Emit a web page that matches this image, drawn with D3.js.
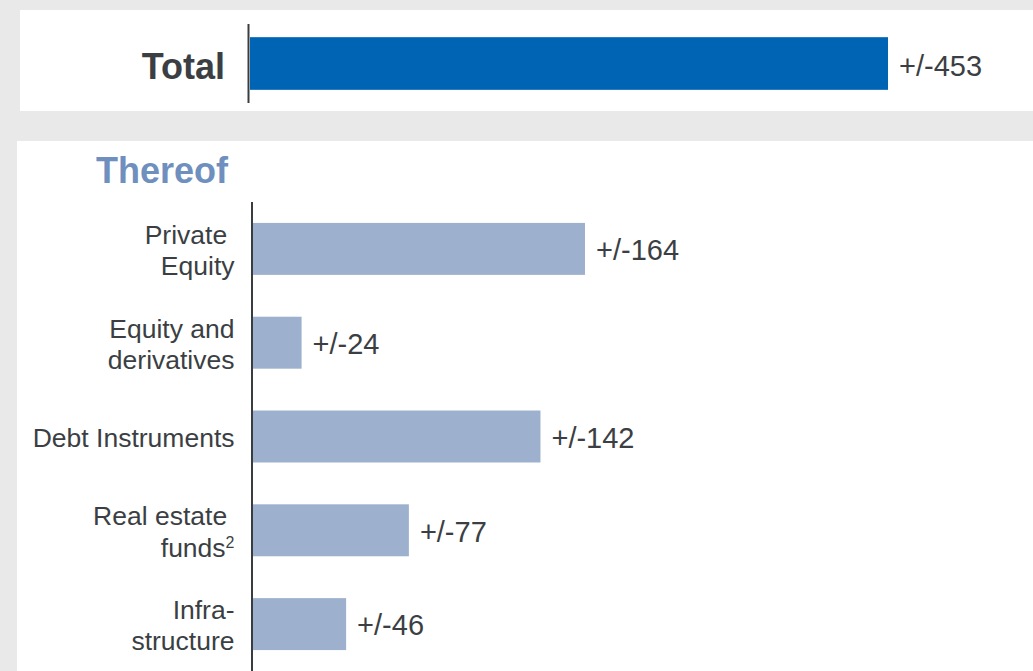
<!DOCTYPE html>
<html>
<head>
<meta charset="utf-8">
<script src="https://cdn.jsdelivr.net/npm/d3@7"></script>
<style>
  html, body { margin: 0; padding: 0; background: #e9e9e9; }
  svg { display: block; font-family: "Liberation Sans", Arial, sans-serif; }
</style>
</head>
<body>
<svg class="chart"></svg>
<script>
var totalCategory = ["Total"];
var totalValues = [453];

var categories = ["Private Equity", "Equity and derivatives", "Debt Instruments", "Real estate funds", "Infrastructure"];
var categoryLines = [["Private\u00a0", "Equity"], ["Equity and", "derivatives"], ["Debt Instruments"], ["Real estate\u00a0", "funds"], ["Infra-", "structure"]];
var values = [164, 24, 142, 77, 46];

var width = 1033, height = 671;
var textColor = "#3b3f44";

var svg = d3.select(".chart")
    .attr("width", width)
    .attr("height", height);

svg.append("rect")
    .attr("width", width).attr("height", height)
    .attr("fill", "#e9e9e9");

// panels
svg.append("rect")
    .attr("x", 20).attr("y", 10)
    .attr("width", width - 20).attr("height", 101)
    .attr("fill", "#fff");

svg.append("rect")
    .attr("x", 17).attr("y", 141)
    .attr("width", width - 17).attr("height", height - 141)
    .attr("fill", "#fff");

// ---- Total panel ----
var xTotal = d3.scaleLinear().domain([0, 453]).range([250, 888]);
var yTotal = d3.scaleBand().domain(totalCategory).range([24, 103]).paddingOuter(0.25);

var totalG = svg.append("g").attr("class", "total");

totalG.selectAll(".bar")
    .data(totalValues)
  .enter().append("rect")
    .attr("class", "bar")
    .attr("x", xTotal(0))
    .attr("y", function(d, i) { return yTotal(totalCategory[i]); })
    .attr("width", function(d) { return xTotal(d) - xTotal(0); })
    .attr("height", yTotal.bandwidth())
    .attr("fill", "#0064b4");

totalG.append("line")
    .attr("x1", 248.5).attr("x2", 248.5)
    .attr("y1", 24).attr("y2", 103)
    .attr("stroke", "#3a3d40")
    .attr("stroke-width", 2);

totalG.selectAll(".cat")
    .data(totalCategory)
  .enter().append("text")
    .attr("class", "cat")
    .attr("x", 225)
    .attr("y", function(d) { return yTotal(d) + yTotal.bandwidth() / 2; })
    .attr("dy", "0.43em")
    .attr("text-anchor", "end")
    .attr("font-size", 36)
    .attr("font-weight", "bold")
    .attr("fill", textColor)
    .text(function(d) { return d; });

totalG.selectAll(".val")
    .data(totalValues)
  .enter().append("text")
    .attr("class", "val")
    .attr("x", function(d) { return xTotal(d) + 11; })
    .attr("y", function(d, i) { return yTotal(totalCategory[i]) + yTotal.bandwidth() / 2; })
    .attr("dy", "0.42em")
    .attr("font-size", 29)
    .attr("fill", textColor)
    .text(function(d) { return "+/-" + d; });

// ---- Thereof panel ----
svg.append("text")
    .attr("x", 228)
    .attr("y", 183)
    .attr("text-anchor", "end")
    .attr("font-size", 36)
    .attr("font-weight", "bold")
    .attr("fill", "#6f8fbe")
    .text("Thereof");

var x = d3.scaleLinear().domain([0, 164]).range([253, 585]);
var y = d3.scaleBand().domain(categories).range([202, 671]).paddingInner(0.446).paddingOuter(0.223);

var chart = svg.append("g").attr("class", "thereof");

chart.selectAll(".bar")
    .data(values)
  .enter().append("rect")
    .attr("class", "bar")
    .attr("x", x(0))
    .attr("y", function(d, i) { return y(categories[i]); })
    .attr("width", function(d) { return x(d) - x(0); })
    .attr("height", y.bandwidth())
    .attr("fill", "#9db0ce");

chart.append("line")
    .attr("x1", 252).attr("x2", 252)
    .attr("y1", 202).attr("y2", 671)
    .attr("stroke", "#3a3d40")
    .attr("stroke-width", 2);

var lineH = 31.5;
chart.selectAll(".cat")
    .data(categories)
  .enter().append("text")
    .attr("class", "cat")
    .attr("text-anchor", "end")
    .attr("font-size", 26.5)
    .attr("fill", textColor)
    .each(function(d, i) {
      var lines = categoryLines[i];
      var t = d3.select(this);
      var cy = y(d) + y.bandwidth() / 2;
      lines.forEach(function(line, j) {
        t.append("tspan")
            .attr("x", 234.5)
            .attr("y", cy + (j - (lines.length - 1) / 2) * lineH)
            .attr("dy", "0.4em")
            .text(line);
        // footnote marker stays in the same text chunk, so it is right-aligned with the line
        if (d === "Real estate funds" && j === 1) {
          t.append("tspan")
              .attr("dy", "-0.55em")
              .attr("font-size", 16)
              .text("2");
        }
      });
    });

chart.selectAll(".val")
    .data(values)
  .enter().append("text")
    .attr("class", "val")
    .attr("x", function(d) { return x(d) + 11; })
    .attr("y", function(d, i) { return y(categories[i]) + y.bandwidth() / 2; })
    .attr("dy", "0.39em")
    .attr("font-size", 29)
    .attr("fill", textColor)
    .text(function(d) { return "+/-" + d; });
</script>
</body>
</html>
